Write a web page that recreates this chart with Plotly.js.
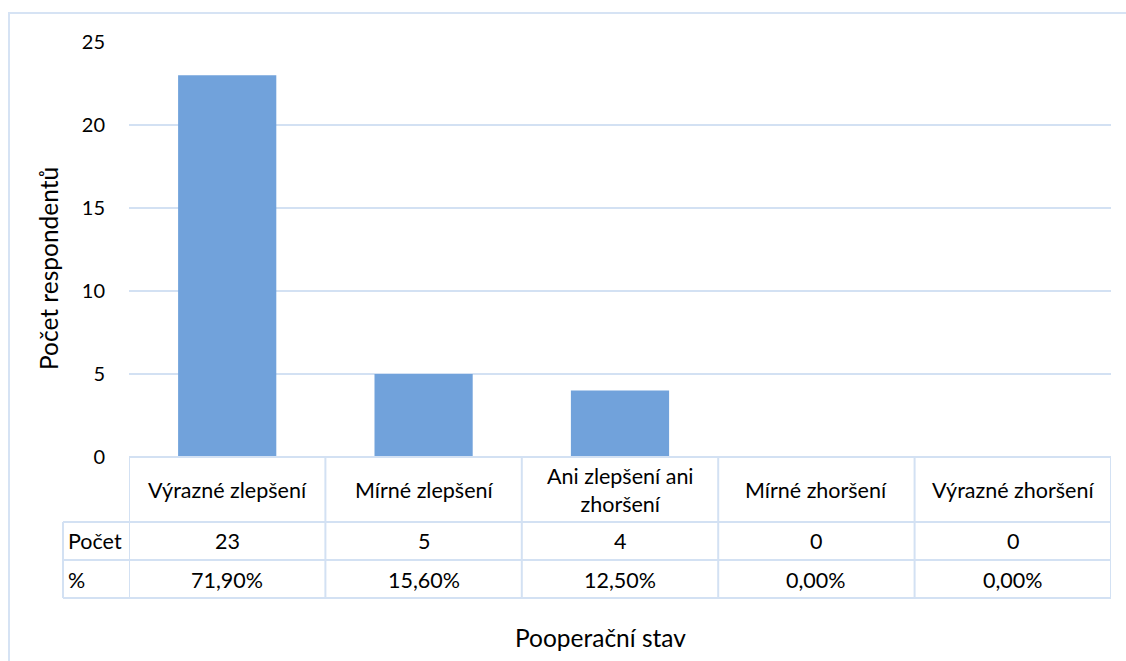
<!DOCTYPE html>
<html>
<head>
<meta charset="utf-8">
<script src="https://cdn.plot.ly/plotly-3.0.1.min.js"></script>
<style>html,body{margin:0;padding:0;background:#fff;}#chart{width:1126px;height:661px;}</style>
</head>
<body>
<div id="chart"></div>
<script>
const categories = ["Výrazné zlepšení", "Mírné zlepšení", "Ani zlepšení ani zhoršení", "Mírné zhoršení", "Výrazné zhoršení"];
const headerLabels = ["Výrazné zlepšení", "Mírné zlepšení", "Ani zlepšení ani<br>zhoršení", "Mírné zhoršení", "Výrazné zhoršení"];
const counts = [23, 5, 4, 0, 0];
const percents = ["71,90%", "15,60%", "12,50%", "0,00%", "0,00%"];
const rowNames = ["Počet", "%"];
const yTicks = [0, 5, 10, 15, 20, 25];

const FONT = "Lato, 'Open Sans', sans-serif";
const LINE = "#D3E1F3";
const W = 1126, H = 661;
const L = 129, R = 15, T = 42, B = 204;
const plotH = H - T - B;
const plotW = W - L - R;
const py = px => -(px - (H - B)) / plotH; // pixel y -> paper y
const pxx = px => (px - L) / plotW;      // pixel x -> paper x

const rowTops = [457, 522, 560, 598];
const shapes = [];
const annotations = [];
const n = categories.length;

shapes.push({type:'line', xref:'x', yref:'paper', x0:-0.5, x1:n-0.5, y0:py(rowTops[0]), y1:py(rowTops[0]), line:{color:LINE, width:2}});
for (let i = 1; i < rowTops.length; i++) {
  shapes.push({type:'line', xref:'paper', yref:'paper', x0:pxx(63), x1:1, y0:py(rowTops[i]), y1:py(rowTops[i]), line:{color:LINE, width:2}});
}
shapes.push({type:'line', xref:'paper', yref:'paper', x0:pxx(63), x1:pxx(63), y0:py(rowTops[1]), y1:py(rowTops[3]), line:{color:LINE, width:2}});
for (let i = 0; i <= n; i++) {
  shapes.push({type:'line', xref:'x', yref:'paper', x0:i-0.5, x1:i-0.5, y0:py(rowTops[0]), y1:py(rowTops[3]), line:{color:LINE, width:2}});
}
shapes.push({type:'rect', xref:'paper', yref:'paper', x0:pxx(9), x1:pxx(1135), y0:py(700), y1:py(13), line:{color:"#D6E3F4", width:2}, fillcolor:'rgba(0,0,0,0)', layer:'below'});

const tf = {family:FONT, size:21.5, color:'#000'};
const titleFont = {family:FONT, size:24.5, color:'#000'};
categories.forEach((c, i) => {
  annotations.push({xref:'x', yref:'paper', x:i, y:py(490), text:headerLabels[i], showarrow:false, font:tf, xanchor:'center', yanchor:'middle'});
  annotations.push({xref:'x', yref:'paper', x:i, y:py(541), text:String(counts[i]), showarrow:false, font:tf, xanchor:'center', yanchor:'middle'});
  annotations.push({xref:'x', yref:'paper', x:i, y:py(580), text:percents[i], showarrow:false, font:tf, xanchor:'center', yanchor:'middle'});
});
annotations.push({xref:'paper', yref:'paper', x:pxx(66), y:py(541), text:rowNames[0], showarrow:false, font:tf, xanchor:'left', yanchor:'middle'});
annotations.push({xref:'paper', yref:'paper', x:pxx(66), y:py(580), text:rowNames[1], showarrow:false, font:tf, xanchor:'left', yanchor:'middle'});
annotations.push({xref:'paper', yref:'paper', x:pxx(600), y:py(637), text:"Pooperační stav", showarrow:false, font:titleFont, xanchor:'center', yanchor:'middle'});
annotations.push({xref:'paper', yref:'paper', x:pxx(48), y:py(269), text:"Počet respondentů", textangle:-90, showarrow:false, font:titleFont, xanchor:'center', yanchor:'middle'});

const data = [{
  type:'bar', x:categories, y:counts, width:0.5,
  marker:{color:'#71A2DB'}, hoverinfo:'x+y'
}];

const layout = {
  width:W, height:H,
  margin:{l:L, r:R, t:T, b:B, pad:0},
  paper_bgcolor:'#fff', plot_bgcolor:'#fff',
  showlegend:false,
  font:{family:FONT, size:20, color:'#000'},
  xaxis:{type:'category', range:[-0.5, n-0.5], showticklabels:false, showgrid:false, zeroline:false, showline:false, ticks:'', fixedrange:true},
  yaxis:{range:[0, 25], tickvals:yTicks, ticktext:yTicks.map(String), showgrid:true, gridcolor:LINE, gridwidth:2, zeroline:false, showline:false, ticks:'outside', ticklen:19, tickcolor:'rgba(0,0,0,0)', tickfont:{family:FONT, size:20, color:'#000'}, fixedrange:true},
  shapes:shapes,
  annotations:annotations
};
Plotly.newPlot('chart', data, layout, {displayModeBar:false, staticPlot:true});
</script>
</body>
</html>
